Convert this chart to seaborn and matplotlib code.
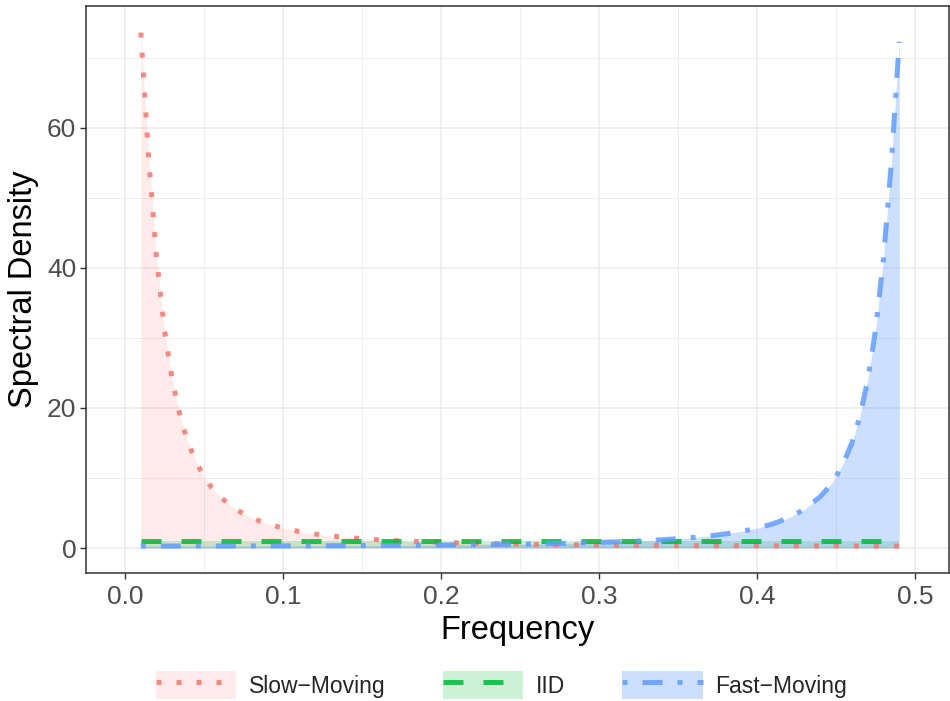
import matplotlib
matplotlib.use("Agg")
import matplotlib.pyplot as plt
import seaborn as sns
import pandas as pd
from matplotlib.patches import Patch
from matplotlib.lines import Line2D

# ---- data ----
slow_freq = [0.01, 0.015, 0.02, 0.025, 0.03, 0.035, 0.04, 0.045, 0.05, 0.055,
             0.06, 0.07, 0.08, 0.09, 0.10, 0.11, 0.12, 0.13, 0.14, 0.15,
             0.16, 0.17, 0.18, 0.19, 0.20, 0.21, 0.22, 0.23, 0.24, 0.25,
             0.26, 0.27, 0.28, 0.29, 0.30, 0.31, 0.32, 0.33, 0.34, 0.35,
             0.36, 0.37, 0.38, 0.39, 0.40, 0.41, 0.42, 0.43, 0.44, 0.45,
             0.46, 0.47, 0.48, 0.49]
slow_density = [73.6, 55.6, 41.3, 31.1, 23.9, 18.7, 15.0, 12.3, 10.2, 8.59,
                7.33, 5.52, 4.30, 3.45, 2.83, 2.36, 2.01, 1.73, 1.51, 1.33,
                1.18, 1.06, 0.958, 0.872, 0.798, 0.734, 0.679, 0.631, 0.589, 0.552,
                0.520, 0.491, 0.466, 0.443, 0.423, 0.404, 0.388, 0.374, 0.360, 0.349,
                0.338, 0.329, 0.320, 0.313, 0.306, 0.300, 0.295, 0.291, 0.287, 0.284,
                0.281, 0.279, 0.278, 0.277]

iid_freq = [0.01, 0.49]
iid_density = [1.0, 1.0]

fast_freq = [0.01, 0.02, 0.03, 0.04, 0.05, 0.06, 0.07, 0.08, 0.09, 0.10,
             0.11, 0.12, 0.13, 0.14, 0.15, 0.16, 0.17, 0.18, 0.19, 0.20,
             0.21, 0.22, 0.23, 0.24, 0.25, 0.26, 0.27, 0.28, 0.29, 0.30,
             0.31, 0.32, 0.33, 0.34, 0.35, 0.36, 0.37, 0.38, 0.39, 0.40,
             0.41, 0.42, 0.43, 0.44, 0.445, 0.45, 0.455, 0.46, 0.465, 0.47,
             0.475, 0.48, 0.485, 0.49]
fast_density = [0.277, 0.278, 0.279, 0.281, 0.284, 0.287, 0.291, 0.295, 0.300, 0.306,
                0.313, 0.320, 0.329, 0.338, 0.349, 0.360, 0.374, 0.388, 0.404, 0.423,
                0.443, 0.466, 0.491, 0.520, 0.552, 0.589, 0.631, 0.679, 0.734, 0.798,
                0.872, 0.958, 1.06, 1.18, 1.33, 1.51, 1.73, 2.01, 2.36, 2.83,
                3.45, 4.30, 5.52, 7.33, 8.59, 10.2, 12.3, 15.0, 18.7, 23.9,
                31.1, 41.3, 55.0, 72.3]

series_names = ["Slow\u2212Moving", "IID", "Fast\u2212Moving"]
x_ticks = [0.0, 0.1, 0.2, 0.3, 0.4, 0.5]
x_tick_labels = ["0.0", "0.1", "0.2", "0.3", "0.4", "0.5"]
y_ticks = [0, 20, 40, 60]

# ---- long table ----
frames = []
for name, fx, fy in zip(series_names,
                        [slow_freq, iid_freq, fast_freq],
                        [slow_density, iid_density, fast_density]):
    frames.append(pd.DataFrame({"Frequency": fx, "Spectral Density": fy, "Series": name}))
df = pd.concat(frames, ignore_index=True)

colors = {"Slow\u2212Moving": "#F8766D", "IID": "#00BA38", "Fast\u2212Moving": "#619CFF"}
fill_alpha = {"Slow\u2212Moving": 0.14, "IID": 0.2, "Fast\u2212Moving": 0.32}
dash_map = {"Slow\u2212Moving": (1, 3), "IID": (4, 4), "Fast\u2212Moving": (1, 3, 4, 3)}
line_alpha = 0.85

sns.set_theme(style="whitegrid")
plt.rcParams["font.family"] = ["Liberation Sans", "DejaVu Sans"]

fig = plt.figure(figsize=(9.5, 7.01), dpi=100)
ax = fig.add_axes([86 / 950, 1 - 573 / 701, (949 - 86) / 950, (573 - 6) / 701])

# fills (area under each curve)
for name in series_names:
    sub = df[df["Series"] == name]
    ax.fill_between(sub["Frequency"], 0, sub["Spectral Density"],
                    color=colors[name], alpha=fill_alpha[name], linewidth=0, zorder=1)

sns.lineplot(data=df, x="Frequency", y="Spectral Density", hue="Series",
             style="Series", palette=colors, dashes=dash_map,
             hue_order=series_names, style_order=series_names,
             linewidth=3.6, alpha=line_alpha, ax=ax, legend=False,
             estimator=None, sort=True, zorder=3)

ax.set_xlim(-0.0247, 0.5215)
ax.set_ylim(-3.57, 77.4)
ax.set_xticks(x_ticks)
ax.set_xticklabels(x_tick_labels)
ax.set_yticks(y_ticks)
ax.set_xticks([0.05, 0.15, 0.25, 0.35, 0.45], minor=True)
ax.set_yticks([10, 30, 50, 70], minor=True)

ax.grid(True, which="major", color="#EBEBEB", linewidth=1.1, zorder=0)
ax.grid(True, which="minor", color="#EBEBEB", linewidth=0.6, zorder=0)
ax.set_axisbelow(True)
ax.set_facecolor("white")
for sp in ax.spines.values():
    sp.set_color("#333333")
    sp.set_linewidth(1.1)

ax.tick_params(axis="both", which="major", length=4, width=1.0, color="#333333",
               labelcolor="#4D4D4D", labelsize=19, left=True, bottom=True)
ax.tick_params(axis="x", which="major", pad=5)
ax.tick_params(axis="y", which="major", pad=3)
ax.tick_params(which="minor", length=0)

ax.set_xlabel("Frequency", fontsize=23.5, color="black", labelpad=4)
ax.set_ylabel("Spectral Density", fontsize=23.5, color="black", labelpad=6)

# legend: filled key with line on top
handles = []
for name in series_names:
    p = Patch(facecolor=colors[name], alpha=fill_alpha[name], edgecolor="none")
    l = Line2D([0], [0], color=colors[name], alpha=line_alpha, linewidth=3.6,
               dashes=dash_map[name], dash_capstyle="butt")
    handles.append((p, l))

fig.legend(handles, series_names, loc="center", bbox_to_anchor=(0.528, 1 - 685 / 701),
           ncol=3, frameon=False, fontsize=16.5, handlelength=3.5, handleheight=1.45,
           handletextpad=0.55, columnspacing=2.5)

fig.savefig("out.png", dpi=100, facecolor="white")
